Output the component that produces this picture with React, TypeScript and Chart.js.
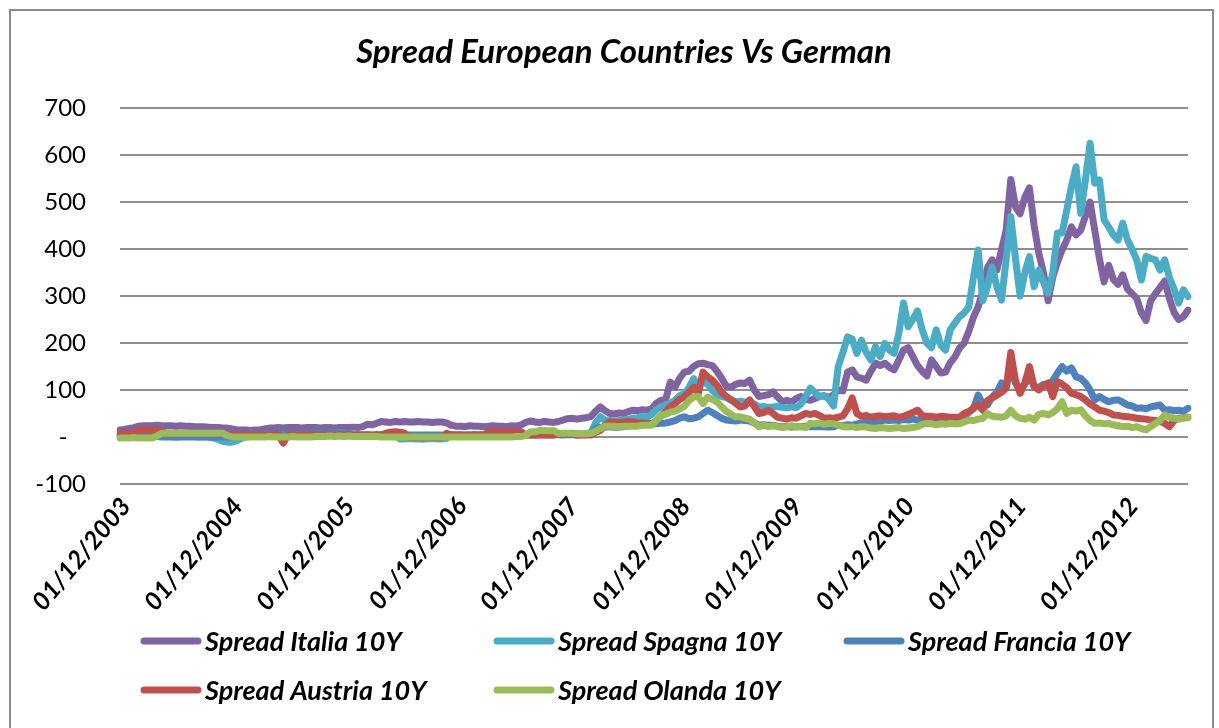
import React, { useEffect, useRef } from 'react';
import { Chart, registerables } from 'chart.js';

Chart.register(...registerables);

const TITLE = 'Spread European Countries Vs German';
const SERIES_NAMES = [
  'Spread Italia 10Y',
  'Spread Spagna 10Y',
  'Spread Francia 10Y',
  'Spread Austria 10Y',
  'Spread Olanda 10Y',
];
const COLORS = ['#8064A2', '#4BACC6', '#4F81BD', '#C0504D', '#9BBB59'];
const Y_MIN = -100;
const Y_MAX = 700;
const Y_STEP = 100;

// Categories: semi-monthly observation dates, 01/12/2003 .. 16/06/2013
const DATES: string[] = [];
for (let k = 0; k < 115; k++) {
  const mi = 11 + k;
  const mm = String((mi % 12) + 1).padStart(2, '0');
  const yy = 2003 + Math.floor(mi / 12);
  DATES.push(`01/${mm}/${yy}`);
  DATES.push(`16/${mm}/${yy}`);
}

const ITALIA = [
  15, 16, 18, 20, 23, 24, 24, 24, 25, 24,
  24, 24, 23, 24, 23, 23, 22, 22, 22, 21,
  20, 20, 19, 19, 17, 15, 15, 15, 14, 15,
  15, 17, 19, 19, 20, 19, 20, 20, 20, 19,
  20, 20, 20, 19, 20, 20, 19, 20, 20, 20,
  21, 20, 22, 27, 26, 29, 33, 32, 31, 33,
  32, 33, 32, 32, 33, 32, 32, 31, 32, 32,
  30, 25, 23, 23, 22, 24, 23, 23, 22, 23,
  24, 23, 23, 22, 24, 23, 26, 31, 34, 32,
  31, 33, 32, 31, 33, 36, 39, 40, 38, 40,
  41, 44, 55, 64, 56, 50, 49, 51, 50, 54,
  57, 56, 58, 57, 60, 72, 78, 80, 117, 106,
  125, 138, 140, 150, 156, 157, 154, 152, 140, 125,
  108, 106, 112, 115, 114, 121, 100, 86, 88, 90,
  96, 85, 75, 78, 74, 82, 86, 80, 78, 82,
  86, 88, 84, 90, 100, 98, 138, 143, 128, 125,
  121, 140, 157, 152, 157, 148, 143, 164, 185, 190,
  171, 152, 140, 130, 164, 150, 136, 138, 158, 170,
  189, 200, 225, 255, 277, 310, 360, 377, 355, 398,
  440, 548, 490, 475, 510, 530, 450, 391, 350, 290,
  340, 372, 398, 419, 447, 430, 440, 470, 500, 440,
  380, 330, 365, 335, 325, 345, 315, 305, 295, 264,
  248, 290, 305, 318, 332, 295, 265, 250, 256, 270,
];

const SPAGNA = [
  2, 1, 0, 1, 2, 1, 0, 0, 1, 2,
  2, 1, 0, 1, 2, 2, 1, 0, 1, 0,
  -2, -5, -9, -11, -11, -8, -3, 0, 1, 2,
  2, 3, 2, 3, 2, 3, 2, 3, 3, 3,
  3, 3, 8, 8, 7, 8, 8, 9, 8, 7,
  4, 4, 5, 4, 3, 4, 4, 5, 4, 3,
  -4, -4, -3, -4, -4, -5, -4, -3, -4, -4,
  -3, 4, 4, 5, 4, 4, 5, 4, 4, 5,
  4, 5, 4, 5, 5, 6, 5, 6, 6, 7,
  6, 7, 7, 6, 7, 7, 6, 7, 7, 6,
  7, 10, 30, 43, 36, 35, 34, 35, 36, 38,
  40, 41, 43, 42, 48, 58, 64, 68, 72, 78,
  88, 92, 105, 124, 105, 118, 112, 99, 90, 86,
  84, 78, 75, 76, 74, 75, 70, 64, 65, 63,
  64, 65, 63, 62, 64, 62, 70, 86, 104, 95,
  86, 88, 80, 66, 150, 180, 213, 208, 178, 206,
  180, 164, 192, 171, 199, 185, 178, 221, 285, 235,
  250, 268, 228, 200, 190, 228, 195, 185, 228, 242,
  256, 264, 277, 340, 398, 290, 320, 362, 320, 291,
  377, 469, 380, 300, 349, 384, 320, 355, 330, 306,
  349, 434, 434, 483, 533, 575, 476, 547, 625, 540,
  547, 462, 447, 430, 419, 455, 420, 400, 377, 334,
  384, 380, 377, 355, 377, 340, 315, 285, 313, 299,
];

const FRANCIA = [
  2, 2, 2, 3, 2, 2, 2, 2, 1, 0,
  0, 0, 0, 0, 0, 0, 0, 0, 0, 0,
  0, 0, 0, 1, 0, 1, 2, 3, 3, 3,
  5, 5, 6, 5, 6, 5, 6, 6, 5, 6,
  6, 6, 8, 8, 8, 8, 8, 8, 8, 8,
  4, 4, 4, 4, 4, 4, 4, 4, 4, 4,
  4, 4, 4, 4, 4, 4, 4, 4, 4, 4,
  3, 4, 4, 4, 3, 4, 5, 4, 4, 5,
  4, 4, 5, 4, 4, 5, 4, 4, 5, 4,
  5, 5, 4, 5, 5, 4, 5, 5, 4, 5,
  5, 8, 18, 21, 21, 22, 21, 21, 22, 24,
  25, 28, 28, 27, 28, 28, 29, 30, 32, 35,
  40, 43, 39, 40, 43, 50, 57, 52, 46, 40,
  36, 35, 34, 36, 35, 34, 30, 25, 26, 25,
  25, 23, 22, 22, 21, 22, 22, 23, 22, 22,
  22, 22, 21, 22, 25, 24, 26, 25, 28, 30,
  32, 30, 33, 34, 36, 35, 36, 35, 37, 36,
  38, 36, 37, 38, 40, 39, 40, 41, 40, 41,
  40, 45, 52, 60, 89, 70, 68, 85, 95, 115,
  105, 150, 115, 100, 112, 130, 108, 105, 112, 110,
  120, 136, 150, 140, 147, 128, 125, 115, 100, 79,
  86, 80, 75, 78, 79, 74, 68, 66, 61, 62,
  60, 64, 66, 68, 57, 58, 56, 57, 55, 61,
];

const AUSTRIA = [
  8, 8, 8, 8, 15, 15, 15, 15, 15, 10,
  8, 8, 8, 8, 8, 8, 8, 8, 8, 8,
  8, 8, 8, 4, 4, 4, 4, 4, 4, 4,
  4, 4, 4, 4, 4, -13, 4, 5, 4, 5,
  4, 5, 4, 5, 4, 5, 4, 5, 4, 5,
  4, 5, 4, 5, 4, 5, 4, 8, 10, 11,
  10, 8, 0, -1, -1, -1, -1, 0, -1, -1,
  8, 4, 4, 4, 4, 4, 4, 4, 4, 11,
  11, 11, 11, 11, 11, 11, 11, 4, 4, 4,
  4, 4, 4, 4, 7, 7, 7, 7, 4, 4,
  4, 4, 10, 14, 25, 32, 32, 31, 32, 33,
  32, 30, 30, 29, 28, 35, 45, 53, 65, 71,
  80, 85, 95, 106, 93, 138, 128, 121, 110, 95,
  86, 80, 72, 64, 66, 79, 65, 50, 52, 57,
  50, 42, 40, 38, 41, 40, 45, 50, 48, 50,
  46, 40, 41, 40, 42, 45, 60, 83, 50, 44,
  46, 42, 44, 45, 43, 44, 45, 42, 44, 48,
  52, 57, 46, 44, 44, 42, 44, 43, 42, 42,
  42, 50, 54, 62, 68, 57, 78, 83, 89, 95,
  104, 180, 120, 93, 115, 150, 107, 100, 108, 115,
  86, 118, 112, 105, 93, 90, 86, 79, 70, 64,
  57, 55, 52, 47, 46, 44, 43, 42, 40, 39,
  38, 36, 35, 33, 29, 22, 35, 40, 41, 42,
];

const OLANDA = [
  -2, -2, -2, -1, -2, -2, -2, -2, 3, 8,
  8, 8, 8, 8, 8, 8, 8, 8, 8, 8,
  8, 8, 8, 3, 0, 0, 0, 0, 0, 0,
  0, 0, 1, 0, 0, 0, 0, 1, 0, 0,
  0, 0, 1, 1, 1, 2, 1, 2, 1, 2,
  1, 1, 1, 1, 1, 1, 0, 0, 0, 0,
  0, 0, 0, 0, 0, 0, 0, 0, 0, 0,
  0, 0, 0, 0, 0, 0, 0, 0, 0, 0,
  0, 0, 0, 0, 0, 1, 1, 3, 11, 11,
  14, 14, 13, 14, 8, 8, 8, 8, 7, 7,
  7, 8, 12, 18, 23, 23, 23, 22, 23, 23,
  23, 23, 25, 25, 25, 35, 46, 48, 53, 55,
  60, 65, 78, 85, 86, 71, 85, 80, 75, 64,
  55, 48, 43, 43, 40, 38, 30, 22, 25, 22,
  24, 22, 20, 22, 24, 21, 22, 20, 29, 28,
  30, 27, 29, 28, 25, 22, 21, 22, 20, 22,
  21, 19, 18, 20, 19, 18, 19, 20, 18, 19,
  20, 22, 27, 29, 28, 26, 28, 27, 29, 28,
  28, 32, 36, 35, 38, 40, 50, 44, 43, 42,
  45, 57, 45, 40, 38, 42, 36, 48, 50, 47,
  52, 60, 75, 50, 57, 55, 58, 45, 35, 29,
  30, 28, 29, 26, 24, 22, 23, 20, 22, 18,
  15, 22, 29, 35, 47, 42, 40, 38, 40, 42,
];

const SERIES = [ITALIA, SPAGNA, FRANCIA, AUSTRIA, OLANDA];

// Legend grid layout (columns / rows)
const LEGEND_COLS = [141, 494, 844];
const LEGEND_ROWS = [641, 690];

const decorPlugin = {
  id: 'decor',
  beforeDraw(chart: any) {
    const ctx = chart.ctx;
    ctx.save();
    ctx.fillStyle = '#ffffff';
    ctx.fillRect(0, 0, chart.width, chart.height);
    ctx.strokeStyle = '#8c8c8c';
    ctx.lineWidth = 2;
    ctx.strokeRect(10, 10, 1203, 740);
    ctx.restore();
  },
  afterDraw(chart: any) {
    const ctx = chart.ctx;
    ctx.save();
    ctx.fillStyle = '#000';
    ctx.font = 'italic bold 33px Lato';
    ctx.textAlign = 'center';
    ctx.textBaseline = 'middle';
    ctx.fillText(TITLE, 624, 52);

    ctx.font = 'italic bold 27px Lato';
    ctx.textAlign = 'left';
    SERIES_NAMES.forEach((name, i) => {
      const col = i % 3;
      const row = Math.floor(i / 3);
      const x = LEGEND_COLS[col];
      const y = LEGEND_ROWS[row];
      ctx.strokeStyle = COLORS[i];
      ctx.lineWidth = 7;
      ctx.lineCap = 'round';
      ctx.beginPath();
      ctx.moveTo(x + 3, y);
      ctx.lineTo(x + 57, y);
      ctx.stroke();
      ctx.fillStyle = '#000';
      ctx.fillText(name, x + 64, y + 1);
    });
    ctx.restore();
  },
};

export default function App() {
  const ref = useRef<HTMLCanvasElement | null>(null);

  useEffect(() => {
    if (!ref.current) return;
    const n = SERIES.length;
    const chart = new Chart(ref.current, {
      type: 'line',
      data: {
        labels: DATES,
        datasets: SERIES.map((d, i) => ({
          label: SERIES_NAMES[i],
          data: d,
          borderColor: COLORS[i],
          backgroundColor: COLORS[i],
          borderWidth: 7,
          pointRadius: 0,
          tension: 0,
          borderJoinStyle: 'round' as const,
          borderCapStyle: 'round' as const,
          fill: false,
          order: n - i,
        })),
      },
      options: {
        animation: false,
        responsive: false,
        maintainAspectRatio: false,
        layout: { padding: { left: 0, right: 29, top: 108, bottom: 0 } },
        plugins: {
          legend: { display: false },
          title: { display: false },
          tooltip: { enabled: false },
        },
        scales: {
          x: {
            type: 'category',
            offset: false,
            grid: { display: false, drawTicks: false },
            border: { display: false },
            ticks: {
              autoSkip: false,
              minRotation: 50,
              maxRotation: 50,
              padding: 8,
              labelOffset: 6,
              color: '#000',
              font: { family: 'Lato', size: 25, weight: 'bold', style: 'italic' },
              callback: function (this: any, _v: any, idx: number) {
                const lab = DATES[idx];
                return lab && lab.startsWith('01/12/') ? lab : '';
              },
            },
            afterFit: (scale: any) => {
              scale.height = 244;
            },
          },
          y: {
            min: Y_MIN,
            max: Y_MAX,
            grid: { color: '#8e8e8e', lineWidth: 2, drawTicks: false },
            border: { display: false },
            ticks: {
              stepSize: Y_STEP,
              padding: 34,
              color: '#000',
              font: { family: 'Lato', size: 24 },
              callback: (v: any) => (Number(v) === 0 ? '-   ' : String(v)),
            },
            afterFit: (scale: any) => {
              scale.width = 120;
            },
          },
        },
      },
      plugins: [decorPlugin],
    });
    return () => chart.destroy();
  }, []);

  return (
    <div style={{ position: 'fixed', left: 0, top: 0, width: 1219, height: 728, background: '#fff' }}>
      <canvas ref={ref} width={1219} height={728} style={{ display: 'block', width: 1219, height: 728 }} />
    </div>
  );
}
